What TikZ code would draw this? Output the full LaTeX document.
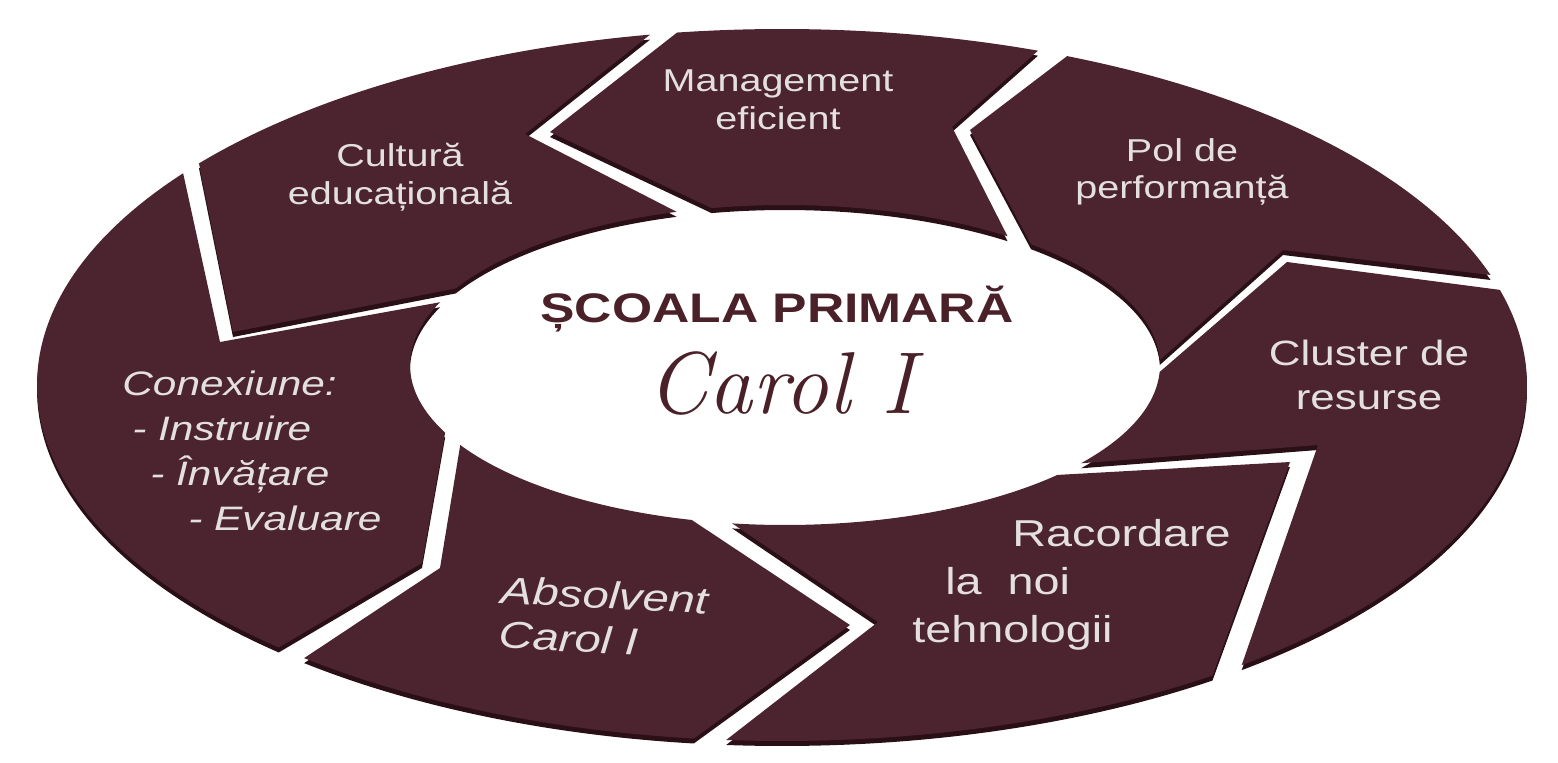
\documentclass[tikz,border=0pt]{standalone}
\usepackage{fontspec}
\newfontfamily\lblfont{Liberation Sans}[FakeStretch=1.25]
\usepackage{xcolor}
\usepackage{tikz}

\definecolor{segface}{HTML}{4C2430}
\definecolor{segside}{HTML}{2A1016}
\definecolor{lbltext}{HTML}{E4E0E0}
\definecolor{titletext}{HTML}{4A2129}

\begin{document}
\begin{tikzpicture}[
			x=0.02cm, y=0.02cm,
			seg/.style={fill=segface, preaction={fill=segside, transform canvas={yshift=-0.1cm}}},
			ringout/.style={x radius=745, y radius=356},
			ringin/.style={x radius=375, y radius=160},
			lbl/.style={font=\lblfont\fontsize{18}{21.5}\selectfont, text=lbltext, align=center, inner sep=0pt},
			lblbig/.style={lbl, font=\lblfont\fontsize{21.3}{27.2}\selectfont},
			lblit/.style={lbl, align=left, font=\lblfont\itshape\fontsize{19.3}{25.5}\selectfont},
			headline/.style={font=\lblfont\bfseries\fontsize{23.5}{27}\selectfont, text=titletext, inner sep=0pt},
			carol/.style={font=\rmfamily\itshape\fontsize{50}{56}\selectfont, text=titletext, inner sep=0pt}
			]
			\useasboundingbox (0,0) rectangle (1558,762);
			\coordinate (oc) at (782,377);
			\coordinate (ic) at (785,397);
			
			% ring segments, counterclockwise
			\path[seg] ([shift={(-51.9:745 and 356)}]oc) arc[ringout, start angle=-51.9, end angle=15.5]
			-- (1287,500) -- ([shift={(-2.5:375 and 160)}]ic) arc[ringin, start angle=-2.5, end angle=-37.9]
			-- (1318,317) -- cycle;
			\path[seg] ([shift={(18:745 and 356)}]oc) arc[ringout, start angle=18, end angle=67.5]
			-- (970,632) -- ([shift={(49:375 and 160)}]ic) arc[ringin, start angle=49, end angle=1.8]
			-- (1283,512) -- cycle;
			\path[seg] ([shift={(69.9:745 and 356)}]oc) arc[ringout, start angle=69.9, end angle=98.1]
			-- (550,630) -- ([shift={(101.3:375 and 160)}]ic) arc[ringin, start angle=101.3, end angle=53.6]
			-- (952,635) -- cycle;
			\path[seg] ([shift={(100.2:745 and 356)}]oc) arc[ringout, start angle=100.2, end angle=141.5]
			-- (233,430) -- ([shift={(151.4:375 and 160)}]ic) arc[ringin, start angle=151.4, end angle=106.8]
			-- (525,628) -- cycle;
			\path[seg] ([shift={(143.5:745 and 356)}]oc) arc[ringout, start angle=143.5, end angle=227.5]
			-- (422,199) -- ([shift={(205:375 and 160)}]ic) arc[ringin, start angle=205, end angle=156.9]
			-- (220,420) -- cycle;
			\path[seg] ([shift={(230.1:745 and 356)}]oc) arc[ringout, start angle=230.1, end angle=263.2]
			-- (850,137) -- ([shift={(255.6:375 and 160)}]ic) arc[ringin, start angle=255.6, end angle=210]
			-- (440,194) -- cycle;
			\path[seg] ([shift={(265.7:745 and 356)}]oc) arc[ringout, start angle=265.7, end angle=305.3]
			-- (1290,300) -- ([shift={(316.6:375 and 160)}]ic) arc[ringin, start angle=316.6, end angle=261.9]
			-- (878,140) -- cycle;
			
			% labels
			\node[lbl] (mgmt) at (778,662) {Management\\eficient};
			\node[lbl] (pol) at (1182,590) {Pol de\\performanță};
			\node[lbl] (cult) at (400,585) {Cultură\\educațională};
			\node[lbl, font=\lblfont\fontsize{20}{25}\selectfont] (clus) at (1369,387) {Cluster de\\resurse};
			\node[lblbig, anchor=west, align=left] (racord) at (912,177)
			{\hspace*{2cm}Racordare\\\hspace*{0.66cm}la\ \ noi\\tehnologii};
			\node[lblit, anchor=west] (conex) at (122,311)
			{Conexiune:\\\hspace*{0.2cm}- Instruire\\\hspace*{0.56cm}- Învățare\\\hspace*{1.32cm}- Evaluare};
			\node[lblit, anchor=west, rotate=-3, font=\lblfont\itshape\fontsize{21.5}{25.5}\selectfont] (absolv) at (500,150)
			{Absolvent\\Carol I};
			
			% centre title
			\node[headline] (title) at (777,453) {ȘCOALA PRIMARĂ};
			\node[carol] (carolname) at (781,379) {Carol I};
		\end{tikzpicture}
\end{document}
